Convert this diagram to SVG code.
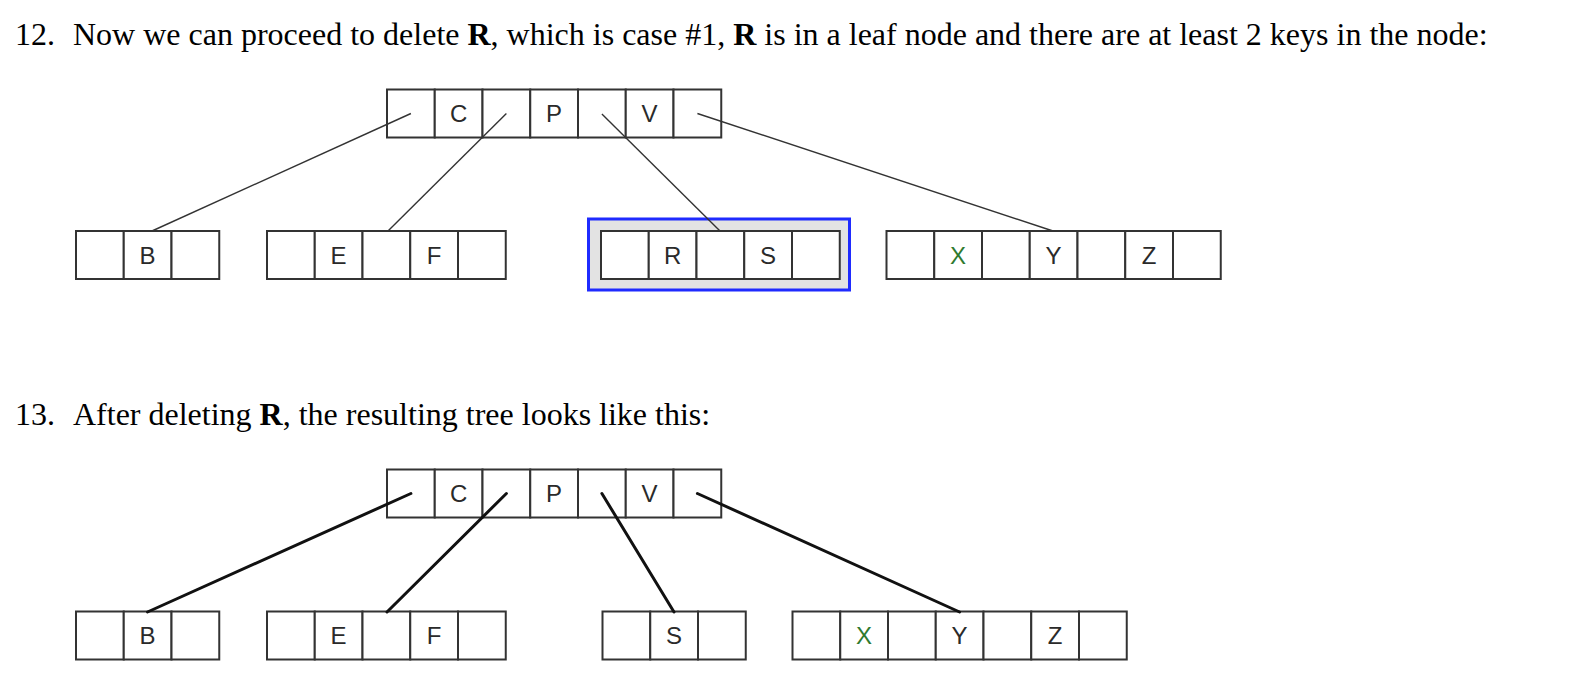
<svg xmlns="http://www.w3.org/2000/svg" width="1586" height="678" viewBox="0 0 1586 678">
<style>
.bg{fill:#ffffff}
.cell{fill:#ffffff;stroke:#333333;stroke-width:2}
.key{font-family:"Liberation Sans",Arial,sans-serif;font-size:24px;fill:#2a2a2a;text-anchor:middle}
.keyx{fill:#2f7a2f}
.title{font-family:"Liberation Serif","Times New Roman",serif;font-size:32px;fill:#000000}
.thin{stroke:#333333;stroke-width:1.4;fill:none}
.thick{stroke:#111111;stroke-width:3;fill:none;stroke-linecap:round}
.hl{fill:#e3e3e3;stroke:#1f2bff;stroke-width:3}
</style>
<rect class="bg" x="0" y="0" width="1586" height="678"/>
<g id="title12">
<text class="title" x="15" y="44.5">12.</text>
<text class="title" x="73" y="44.5">Now we can proceed to delete <tspan font-weight="bold">R</tspan>, which is case #1, <tspan font-weight="bold">R</tspan> is in a leaf node and there are at least 2 keys in the node:</text>
</g>
<g id="title13">
<text class="title" x="15" y="425">13.</text>
<text class="title" x="73" y="425">After deleting <tspan font-weight="bold">R</tspan>, the resulting tree looks like this:</text>
</g>
<!-- top tree -->
<g id="t-root">
<rect class="cell" x="387" y="89.5" width="47.75" height="48"/>
<rect class="cell" x="434.75" y="89.5" width="47.75" height="48"/>
<rect class="cell" x="482.5" y="89.5" width="47.75" height="48"/>
<rect class="cell" x="530.25" y="89.5" width="47.75" height="48"/>
<rect class="cell" x="578" y="89.5" width="47.75" height="48"/>
<rect class="cell" x="625.75" y="89.5" width="47.75" height="48"/>
<rect class="cell" x="673.5" y="89.5" width="47.75" height="48"/>
<text class="key" x="458.6" y="122">C</text>
<text class="key" x="554.1" y="122">P</text>
<text class="key" x="649.6" y="122">V</text>
</g>
<g id="t-leafB">
<rect class="cell" x="76" y="231" width="47.75" height="48"/>
<rect class="cell" x="123.75" y="231" width="47.75" height="48"/>
<rect class="cell" x="171.5" y="231" width="47.75" height="48"/>
<text class="key" x="147.6" y="263.5">B</text>
</g>
<g id="t-leafEF">
<rect class="cell" x="267" y="231" width="47.75" height="48"/>
<rect class="cell" x="314.75" y="231" width="47.75" height="48"/>
<rect class="cell" x="362.5" y="231" width="47.75" height="48"/>
<rect class="cell" x="410.25" y="231" width="47.75" height="48"/>
<rect class="cell" x="458" y="231" width="47.75" height="48"/>
<text class="key" x="338.6" y="263.5">E</text>
<text class="key" x="434.1" y="263.5">F</text>
</g>
<g id="t-leafRS">
<rect class="hl" x="588.5" y="219" width="261" height="71"/>
<rect class="cell" x="601" y="231" width="47.75" height="48"/>
<rect class="cell" x="648.75" y="231" width="47.75" height="48"/>
<rect class="cell" x="696.5" y="231" width="47.75" height="48"/>
<rect class="cell" x="744.25" y="231" width="47.75" height="48"/>
<rect class="cell" x="792" y="231" width="47.75" height="48"/>
<text class="key" x="672.6" y="263.5">R</text>
<text class="key" x="768.1" y="263.5">S</text>
</g>
<g id="t-leafXYZ">
<rect class="cell" x="886.5" y="231" width="47.75" height="48"/>
<rect class="cell" x="934.25" y="231" width="47.75" height="48"/>
<rect class="cell" x="982" y="231" width="47.75" height="48"/>
<rect class="cell" x="1029.75" y="231" width="47.75" height="48"/>
<rect class="cell" x="1077.5" y="231" width="47.75" height="48"/>
<rect class="cell" x="1125.25" y="231" width="47.75" height="48"/>
<rect class="cell" x="1173" y="231" width="47.75" height="48"/>
<text class="key keyx" x="958.1" y="263.5">X</text>
<text class="key" x="1053.6" y="263.5">Y</text>
<text class="key" x="1149.1" y="263.5">Z</text>
</g>
<!-- bottom tree -->
<g id="b-root">
<rect class="cell" x="387" y="469.5" width="47.75" height="48"/>
<rect class="cell" x="434.75" y="469.5" width="47.75" height="48"/>
<rect class="cell" x="482.5" y="469.5" width="47.75" height="48"/>
<rect class="cell" x="530.25" y="469.5" width="47.75" height="48"/>
<rect class="cell" x="578" y="469.5" width="47.75" height="48"/>
<rect class="cell" x="625.75" y="469.5" width="47.75" height="48"/>
<rect class="cell" x="673.5" y="469.5" width="47.75" height="48"/>
<text class="key" x="458.6" y="502">C</text>
<text class="key" x="554.1" y="502">P</text>
<text class="key" x="649.6" y="502">V</text>
</g>
<g id="b-leafB">
<rect class="cell" x="76" y="611.5" width="47.75" height="48"/>
<rect class="cell" x="123.75" y="611.5" width="47.75" height="48"/>
<rect class="cell" x="171.5" y="611.5" width="47.75" height="48"/>
<text class="key" x="147.6" y="644">B</text>
</g>
<g id="b-leafEF">
<rect class="cell" x="267" y="611.5" width="47.75" height="48"/>
<rect class="cell" x="314.75" y="611.5" width="47.75" height="48"/>
<rect class="cell" x="362.5" y="611.5" width="47.75" height="48"/>
<rect class="cell" x="410.25" y="611.5" width="47.75" height="48"/>
<rect class="cell" x="458" y="611.5" width="47.75" height="48"/>
<text class="key" x="338.6" y="644">E</text>
<text class="key" x="434.1" y="644">F</text>
</g>
<g id="b-leafS">
<rect class="cell" x="602.5" y="611.5" width="47.75" height="48"/>
<rect class="cell" x="650.25" y="611.5" width="47.75" height="48"/>
<rect class="cell" x="698" y="611.5" width="47.75" height="48"/>
<text class="key" x="674.1" y="644">S</text>
</g>
<g id="b-leafXYZ">
<rect class="cell" x="792.5" y="611.5" width="47.75" height="48"/>
<rect class="cell" x="840.25" y="611.5" width="47.75" height="48"/>
<rect class="cell" x="888" y="611.5" width="47.75" height="48"/>
<rect class="cell" x="935.75" y="611.5" width="47.75" height="48"/>
<rect class="cell" x="983.5" y="611.5" width="47.75" height="48"/>
<rect class="cell" x="1031.25" y="611.5" width="47.75" height="48"/>
<rect class="cell" x="1079" y="611.5" width="47.75" height="48"/>
<text class="key keyx" x="864.1" y="644">X</text>
<text class="key" x="959.6" y="644">Y</text>
<text class="key" x="1055.1" y="644">Z</text>
</g>
<g id="connectors">
<line class="thin" x1="410.9" y1="113.5" x2="152" y2="231"/>
<line class="thin" x1="506.4" y1="113.5" x2="388" y2="231"/>
<line class="thin" x1="601.9" y1="114" x2="720" y2="231"/>
<line class="thin" x1="697.4" y1="113.5" x2="1053" y2="231"/>
<line class="thick" x1="410.9" y1="493.5" x2="147.5" y2="612"/>
<line class="thick" x1="506.4" y1="493.5" x2="387" y2="612"/>
<line class="thick" x1="601.9" y1="493.5" x2="674" y2="612"/>
<line class="thick" x1="697.4" y1="493.5" x2="959.6" y2="612"/>
</g>
</svg>
